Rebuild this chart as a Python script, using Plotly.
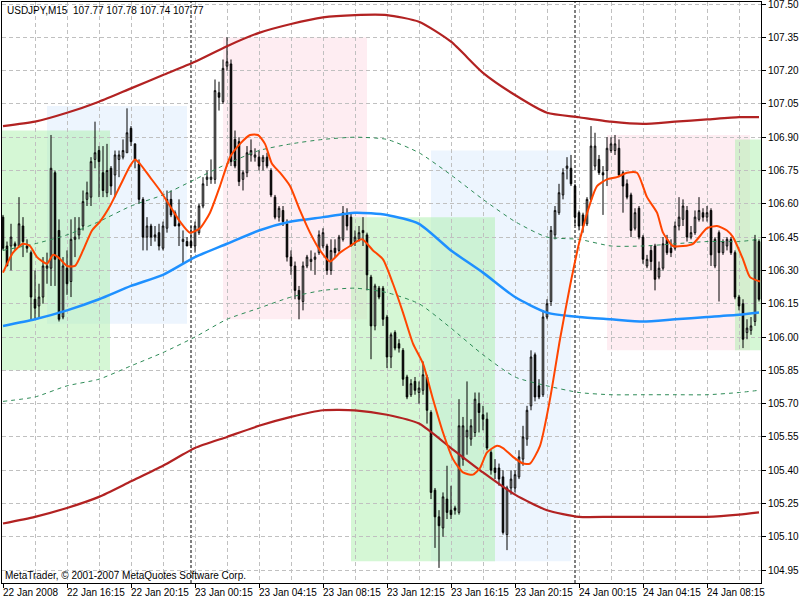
import plotly.graph_objects as go

# ---------------- data (USDJPY, M15, bar index 0 = 22 Jan 2008 12:15) ----------------
opens = [
106.54,106.41,106.41,106.42,106.41,106.50,106.41,106.38,106.17,106.14,
106.18,106.31,106.31,106.74,106.48,106.09,106.31,106.25,106.44,106.46,
106.50,106.62,106.63,106.80,106.84,106.74,106.65,106.76,106.73,106.80,
106.81,106.83,106.94,106.87,106.78,106.62,106.45,106.50,106.45,106.47,
106.40,106.49,106.62,106.56,106.51,106.43,106.43,106.43,106.41,106.47,
106.59,106.71,106.71,106.71,107.10,107.06,107.22,107.23,106.89,106.88,
106.71,106.74,106.82,106.81,106.81,106.79,106.81,106.75,106.63,106.54,
106.57,106.51,106.36,106.32,106.21,106.16,106.32,106.34,106.35,106.38,
106.41,106.41,106.30,106.40,106.39,106.44,106.55,106.54,106.43,106.44,
106.48,106.46,106.27,106.05,106.22,106.22,106.09,105.91,106.02,105.97,
105.94,105.82,105.74,105.80,105.75,105.76,105.82,105.66,105.31,105.19,
105.14,105.27,105.22,105.23,105.21,105.45,105.55,105.54,105.57,105.70,
105.65,105.63,105.48,105.41,105.41,105.37,105.11,105.32,105.32,105.37,
105.45,105.54,105.69,105.92,105.78,105.74,106.09,106.16,106.46,106.56,
106.64,106.76,106.76,106.68,106.56,106.55,106.51,106.62,106.77,106.80,
106.74,106.75,106.84,106.84,106.85,106.74,106.69,106.64,106.49,106.58,
106.45,106.32,106.39,106.41,106.27,106.31,106.44,106.40,106.40,106.50,
106.53,106.57,106.45,106.47,106.53,106.56,106.54,106.57,106.32,106.47,
106.38,106.41,106.44,106.38,106.18,106.15,106.02,106.03,106.07,106.43]
highs = [
106.55,106.43,106.51,106.43,106.63,106.54,106.44,106.39,106.30,106.24,
106.36,106.38,106.91,106.75,106.53,106.36,106.39,106.53,106.54,106.54,
106.66,106.70,106.81,106.97,106.86,106.86,106.87,106.77,106.84,106.84,
106.89,107.03,106.95,106.87,106.80,106.63,106.54,106.51,106.50,106.51,
106.52,106.66,106.66,106.57,106.62,106.48,106.45,106.50,106.52,106.60,
106.72,106.75,106.80,107.16,107.15,107.25,107.35,107.25,106.93,106.90,
106.75,106.86,106.89,106.85,106.84,106.82,106.83,106.76,106.64,106.59,
106.59,106.53,106.39,106.34,106.23,106.34,106.37,106.39,106.38,106.48,
106.49,106.42,106.44,106.44,106.46,106.59,106.58,106.56,106.48,106.50,
106.54,106.47,106.28,106.24,106.23,106.23,106.10,106.02,106.03,105.99,
105.95,105.83,105.81,105.82,105.80,105.89,105.83,105.67,105.32,105.22,
105.30,105.42,105.33,105.24,105.72,105.64,105.80,105.63,105.75,105.75,
105.69,105.66,105.49,105.45,105.43,105.40,105.33,105.40,105.40,105.49,
105.60,105.69,105.94,105.93,105.81,106.12,106.17,106.50,106.59,106.69,
106.76,106.81,106.82,106.69,106.57,106.56,106.63,106.95,106.92,106.82,
106.77,106.90,106.90,106.91,106.89,106.75,106.71,106.65,106.58,106.59,
106.46,106.37,106.41,106.42,106.34,106.45,106.46,106.44,106.52,106.63,
106.62,106.59,106.50,106.57,106.63,106.58,106.59,106.58,106.45,106.48,
106.44,106.45,106.45,106.39,106.19,106.17,106.08,106.09,106.46,106.44]
lows = [
106.39,106.32,106.30,106.39,106.41,106.36,106.38,106.08,106.08,106.09,
106.15,106.24,106.23,106.23,106.07,106.08,106.19,106.18,106.36,106.44,
106.48,106.59,106.59,106.76,106.63,106.63,106.63,106.64,106.63,106.72,
106.80,106.83,106.86,106.76,106.60,106.39,106.39,106.41,106.43,106.39,
106.39,106.47,106.54,106.50,106.41,106.33,106.41,106.40,106.38,106.46,
106.58,106.68,106.69,106.69,107.02,107.05,107.20,106.77,106.76,106.68,
106.66,106.72,106.79,106.79,106.75,106.75,106.76,106.63,106.53,106.52,
106.50,106.34,106.28,106.17,106.08,106.12,106.31,106.30,106.28,106.37,
106.40,106.28,106.28,106.36,106.38,106.43,106.48,106.41,106.41,106.43,
106.41,106.21,105.90,106.03,106.17,106.05,105.86,105.86,105.94,105.93,
105.78,105.72,105.73,105.74,105.70,105.74,105.61,105.27,105.05,104.96,
105.10,105.18,105.18,105.20,105.20,105.42,105.47,105.51,105.55,105.57,
105.58,105.49,105.38,105.36,105.33,105.11,105.04,105.29,105.30,105.36,
105.42,105.51,105.67,105.71,105.72,105.73,106.08,106.14,106.44,106.55,
106.62,106.71,106.68,106.50,106.48,106.47,106.50,106.61,106.75,106.73,
106.55,106.68,106.83,106.82,106.72,106.56,106.62,106.45,106.48,106.44,
106.33,106.31,106.30,106.21,106.26,106.30,106.37,106.36,106.39,106.48,
106.50,106.43,106.44,106.46,106.52,106.52,106.52,106.32,106.31,106.16,
106.37,106.39,106.37,106.17,106.12,105.95,105.99,106.01,106.05,106.16]
closes = [
106.40,106.32,106.45,106.41,106.51,106.43,106.40,106.18,106.13,106.18,
106.32,106.32,106.76,106.35,106.08,106.32,106.24,106.44,106.45,106.49,
106.61,106.65,106.79,106.83,106.79,106.66,106.75,106.68,106.82,106.82,
106.84,106.92,106.88,106.80,106.62,106.45,106.50,106.45,106.46,106.41,
106.50,106.62,106.55,106.50,106.50,106.44,106.41,106.41,106.50,106.59,
106.69,106.72,106.72,107.11,107.08,107.21,107.24,106.79,106.77,106.70,
106.74,106.83,106.84,106.82,106.77,106.81,106.77,106.64,106.54,106.58,
106.52,106.36,106.32,106.21,106.17,106.32,106.36,106.35,106.36,106.46,
106.47,106.30,106.39,106.38,106.45,106.56,106.50,106.41,106.45,106.47,
106.47,106.28,106.05,106.23,106.18,106.08,105.91,106.01,105.95,105.95,
105.81,105.73,105.79,105.76,105.77,105.83,105.67,105.30,105.19,105.15,
105.28,105.21,105.20,105.22,105.60,105.60,105.58,105.60,105.72,105.66,
105.63,105.50,105.40,105.39,105.36,105.12,105.32,105.36,105.38,105.46,
105.55,105.67,105.91,105.73,105.73,106.09,106.15,106.48,106.57,106.65,
106.74,106.77,106.69,106.54,106.50,106.50,106.62,106.86,106.86,106.74,
106.73,106.85,106.87,106.87,106.73,106.68,106.63,106.48,106.56,106.45,
106.35,106.35,106.34,106.26,106.31,106.42,106.38,106.38,106.50,106.54,
106.59,106.45,106.47,106.54,106.57,106.54,106.56,106.37,106.44,106.38,
106.43,106.44,106.38,106.18,106.14,105.99,106.04,106.05,106.44,106.17]

# indicator lines, sampled at bar indices
band_x = [0, 8, 16, 24, 32, 40, 48, 56, 64, 72, 80, 88, 96, 104, 112, 120, 128, 136,
          144, 152, 160, 168, 176, 184, 189]
upper_band = [106.95, 106.97, 107.01, 107.06, 107.12, 107.18, 107.24, 107.31, 107.37, 107.41,
              107.44, 107.45, 107.45, 107.42, 107.33, 107.19, 107.09, 107.01, 106.99, 106.97,
              106.96, 106.97, 106.98, 106.99, 106.99]
lower_band = [105.16, 105.19, 105.23, 105.28, 105.35, 105.42, 105.50, 105.55, 105.60, 105.64,
              105.67, 105.67, 105.65, 105.61, 105.50, 105.39, 105.29, 105.22, 105.19, 105.19,
              105.19, 105.19, 105.19, 105.20, 105.21]
ma_mid = [106.05, 106.08, 106.12, 106.17, 106.23, 106.28, 106.36, 106.42, 106.48, 106.52,
          106.54, 106.56, 106.55, 106.51, 106.39, 106.29, 106.18, 106.11, 106.09, 106.08,
          106.07, 106.08, 106.09, 106.10, 106.11]
env_up = [106.39, 106.42, 106.46, 106.52, 106.59, 106.64, 106.71, 106.78, 106.84, 106.87,
          106.89, 106.90, 106.89, 106.83, 106.73, 106.62, 106.52, 106.45, 106.44, 106.41,
          106.41, 106.42, 106.43, 106.43, 106.44]
env_dn = [105.71, 105.73, 105.78, 105.81, 105.87, 105.93, 106.00, 106.08, 106.13, 106.18,
          106.21, 106.22, 106.20, 106.15, 106.04, 105.92, 105.82, 105.78, 105.75, 105.74,
          105.74, 105.74, 105.74, 105.75, 105.76]

fast_x = [0, 2.5, 5, 6.75, 8.5, 11, 12.5, 13.75, 16, 18, 20, 22.25, 24.25, 26.75, 29.25,
          31.75, 33, 34.25, 36.75, 39.25, 41.75, 44.25, 46.75, 49.25, 51.75, 54.25, 56.75,
          59.25, 61.75, 63.75, 65.5, 67.25, 69.25, 71.75, 74.25, 76.75, 79.25, 81.75, 84.25,
          86.75, 89.75, 92.5, 95, 97.5, 100, 102.5, 105, 107.5, 110, 112.5, 115, 117.5,
          119.25, 121, 123.5, 125, 127.5, 130, 131.75, 134.25, 136.75, 139.25, 141.75,
          144.25, 146.75, 148.5, 151, 153.5, 156, 158.5, 161, 163.5, 165, 167.5, 170,
          172.5, 176, 178.5, 181, 182.5, 185, 186.75, 189.25]
fast_ma = [106.29, 106.38, 106.42, 106.41, 106.36, 106.33, 106.37, 106.36, 106.32, 106.32,
           106.39, 106.48, 106.52, 106.59, 106.68, 106.77, 106.80, 106.78, 106.72, 106.66,
           106.59, 106.52, 106.47, 106.49, 106.56, 106.68, 106.81, 106.87, 106.91, 106.91,
           106.87, 106.78, 106.74, 106.68, 106.57, 106.47, 106.39, 106.34, 106.38, 106.41,
           106.44, 106.39, 106.35, 106.24, 106.11, 105.97, 105.88, 105.72, 105.57, 105.45,
           105.39, 105.38, 105.41, 105.48, 105.51, 105.50, 105.46, 105.43, 105.43, 105.51,
           105.72, 105.99, 106.23, 106.44, 106.60, 106.68, 106.71, 106.72, 106.74, 106.74,
           106.63, 106.56, 106.47, 106.41, 106.41, 106.42, 106.49, 106.50, 106.48, 106.45,
           106.35, 106.27, 106.25]

# session rectangles (bar index / price)
rect_kind = ["blue", "pink", "blue", "pink", "green", "green", "green"]
rect_x0 = [11, 55, 107, 151, -0.25, 87, 183]
rect_x1 = [46, 91, 142, 186.75, 26.75, 123, 190]
rect_y0 = [106.06, 106.08, 104.99, 105.94, 105.85, 104.99, 105.94]
rect_y1 = [107.04, 107.35, 106.84, 106.91, 106.93, 106.54, 106.89]

separators = [47, 143]

xtick_pos = [0, 16, 32, 48, 64, 80, 96, 112, 128, 144, 160, 176]
xtick_labels = ["22 Jan 2008", "22 Jan 16:15", "22 Jan 20:15", "23 Jan 00:15",
                "23 Jan 04:15", "23 Jan 08:15", "23 Jan 12:15", "23 Jan 16:15",
                "23 Jan 20:15", "24 Jan 00:15", "24 Jan 04:15", "24 Jan 08:15"]
xgrid_minor = [8, 24, 40, 56, 72, 88, 104, 120, 136, 152, 168, 184]
ytick_labels = ["107.50", "107.35", "107.20", "107.05", "106.90", "106.75", "106.60",
                "106.45", "106.30", "106.15", "106.00", "105.85", "105.70", "105.55",
                "105.40", "105.25", "105.10", "104.95"]

title_text = "USDJPY,M15\u00a0 107.77 107.78 107.74 107.77"
copyright_text = "MetaTrader, \u00a9 2001-2007 MetaQuotes Software Corp."

# ---------------- figure ----------------
FONT = "Liberation Sans"
GRID = "#C0C0C0"
fills = {"blue": "#EDF5FE", "pink": "#FEEDF2", "green": "rgba(172,240,172,0.5)"}

fig = go.Figure()

fig.add_trace(go.Candlestick(
    x=list(range(len(opens))), open=opens, high=highs, low=lows, close=closes,
    increasing=dict(line=dict(color="black", width=1), fillcolor="white"),
    decreasing=dict(line=dict(color="black", width=1), fillcolor="black"),
    whiskerwidth=0, hoverinfo="skip", showlegend=False))

def add_line(x, y, color, width, dash="solid"):
    fig.add_trace(go.Scatter(x=x, y=y, mode="lines", hoverinfo="skip", showlegend=False,
                             line=dict(color=color, width=width, dash=dash,
                                       shape="spline", smoothing=0.6)))

add_line(band_x, env_up, "#2E8B57", 1, "4px,4px")
add_line(band_x, env_dn, "#2E8B57", 1, "4px,4px")
add_line(band_x, upper_band, "#B22222", 2.2)
add_line(band_x, lower_band, "#B22222", 2.2)
add_line(band_x, ma_mid, "#1E90FF", 2.5)
add_line(fast_x, fast_ma, "#FF4500", 2)

shapes = []
for k, x0, x1, y0, y1 in zip(rect_kind, rect_x0, rect_x1, rect_y0, rect_y1):
    shapes.append(dict(type="rect", xref="x", yref="y", x0=x0, x1=x1, y0=y0, y1=y1,
                       fillcolor=fills[k], line=dict(width=0), layer="below"))
for s in separators:
    shapes.append(dict(type="line", xref="x", yref="paper", x0=s, x1=s, y0=0, y1=1,
                       line=dict(color="black", width=1, dash="3px,2px"), layer="between"))

annotations = []
for p, t in zip(xtick_pos, xtick_labels):
    annotations.append(dict(x=p, xref="x", y=-0.0155, yref="paper", text=t,
                            showarrow=False, xanchor="left", yanchor="middle", xshift=-2,
                            font=dict(family=FONT, size=10, color="black")))
annotations.append(dict(x=0.004, xref="paper", y=0.9854, yref="paper", text=title_text,
                        showarrow=False, xanchor="left", yanchor="middle",
                        font=dict(family=FONT, size=10, color="black")))
annotations.append(dict(x=0.001, xref="paper", y=0.0129, yref="paper", text=copyright_text,
                        showarrow=False, xanchor="left", yanchor="middle",
                        font=dict(family=FONT, size=10, color="black")))

fig.update_layout(
    width=800, height=600,
    margin=dict(l=2, r=39, t=2, b=17, autoexpand=False),
    paper_bgcolor="white", plot_bgcolor="white",
    showlegend=False, boxgap=0.45,
    shapes=shapes, annotations=annotations,
    xaxis=dict(range=[-0.25, 189.5], tickmode="array", tickvals=xtick_pos,
               ticktext=[""] * len(xtick_pos), ticks="outside", ticklen=4,
               tickcolor="black", showgrid=True, gridcolor=GRID, griddash="4px,3px",
               gridwidth=1, showline=True, mirror=True, linecolor="black", linewidth=1,
               zeroline=False, rangeslider=dict(visible=False), fixedrange=True,
               minor=dict(tickmode="array", tickvals=xgrid_minor, showgrid=True,
                          gridcolor=GRID, griddash="4px,3px", ticks="")),
    yaxis=dict(range=[104.892, 107.509], side="right", tickmode="array",
               tickvals=[float(t) for t in ytick_labels], ticktext=ytick_labels,
               ticks="outside", ticklen=4, tickcolor="black", ticklabeloverflow="allow",
               tickfont=dict(family=FONT, size=10, color="black"),
               showgrid=True, gridcolor=GRID, griddash="4px,3px", gridwidth=1,
               showline=True, mirror=True, linecolor="black", linewidth=1,
               zeroline=False, fixedrange=True),
)

fig.write_html("out.html")
